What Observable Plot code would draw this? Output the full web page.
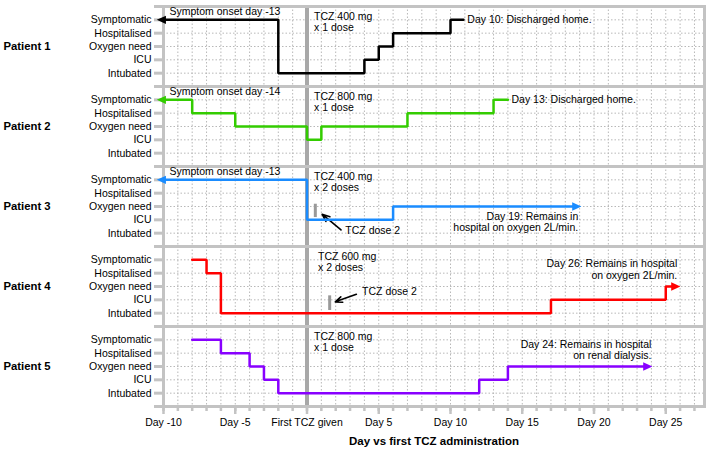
<!DOCTYPE html>
<html><head><meta charset="utf-8">
<script src="https://cdn.jsdelivr.net/npm/d3@7"></script>
<script src="https://cdn.jsdelivr.net/npm/@observablehq/plot@0.6"></script>
<style>
html,body{margin:0;padding:0;background:#fff;}
</style></head><body><div id="chart"></div>
<script>
// ---- data ----
const patients = ["Patient 1", "Patient 2", "Patient 3", "Patient 4", "Patient 5"];
const levelLabels = ["Intubated", "ICU", "Oxygen need", "Hospitalised", "Symptomatic"]; // level index 0..4
const colors = ["#000000", "#33cc00", "#1a8cff", "#ff0000", "#8800ff"];
const xTickDays = [-10, -5, 0, 5, 10, 15, 20, 25];

const p1Days = [-10, -2, 4, 5, 6, 10, 10.9];
const p1Levels = [4, 0, 1, 2, 3, 4, 4];
const p2Days = [-10, -8, -5, 0, 1, 7, 13, 14];
const p2Levels = [4, 3, 2, 1, 2, 3, 4, 4];
const p3Days = [-10, 0, 6, 18.8];
const p3Levels = [4, 1, 2, 2];
const p4Days = [-8, -7, -6, 17, 25, 25.7];
const p4Levels = [4, 3, 0, 1, 2, 2];
const p5Days = [-8, -6, -4, -3, -2, 12, 14, 23.75];
const p5Levels = [4, 3, 2, 1, 0, 1, 2, 2];

const onsetPatients = ["Patient 1", "Patient 2", "Patient 3"];
const onsetTexts = ["Symptom onset day -13", "Symptom onset day -14", "Symptom onset day -13"];

const doseTexts = ["TCZ 400 mg\nx 1 dose", "TCZ 800 mg\nx 1 dose", "TCZ 400 mg\nx 2 doses", "TCZ 600 mg\nx 2 doses", "TCZ 800 mg\nx 1 dose"];
const doseTextDays = [0.49, 0.49, 0.49, 0.77, 0.49];

// arrow heads (left = ongoing before window, right = ongoing after)
const leftArrowPatients = ["Patient 1", "Patient 2", "Patient 3"];
const leftArrowDays = [-10.15, -10.15, -10.15];
const leftArrowLevels = [4, 4, 4];
const rightArrowPatients = ["Patient 3", "Patient 4", "Patient 5"];
const rightArrowDays = [18.8, 25.7, 23.75];
const rightArrowLevels = [2, 2, 2];

// outcome notes: discharged (left-aligned after line end) and ongoing (right-aligned)
const dischargedPatients = ["Patient 1", "Patient 2"];
const dischargedTexts = ["Day 10: Discharged home.", "Day 13: Discharged home."];
const dischargedDays = [11.17, 14.25];
const dischargedLevels = [4, 4];
const ongoingPatients = ["Patient 3", "Patient 4", "Patient 5"];
const ongoingTexts = ["Day 19: Remains in\nhospital on oxygen 2L/min.", "Day 26: Remains in hospital\non oxygen 2L/min.", "Day 24: Remains in hospital\non renal dialysis."];
const ongoingDays = [18.9, 25.8, 24.0];
const ongoingLevels = [0.85, 3.27, 3.26];

// second dose markers
const dose2Patients = ["Patient 3", "Patient 4"];
const dose2Days = [0.58, 1.58];
const dose2Lo = [1.17, 0.2];
const dose2Hi = [2.17, 1.3];
const dose2TextDays = [2.67, 3.84];
const dose2TextLevels = [0.18, 1.62];
const dose2ArrowFromDays = [2.37, 3.44];
const dose2ArrowFromLevels = [0.24, 1.42];
const dose2ArrowToDays = [1.05, 1.97];
const dose2ArrowToLevels = [1.42, 0.85];

// ---- build tables ----
const series = [[p1Days, p1Levels], [p2Days, p2Levels], [p3Days, p3Levels], [p4Days, p4Levels], [p5Days, p5Levels]];
const rows = series.flatMap(([ds, ls], i) => ds.map((d, j) => ({patient: patients[i], day: d, level: ls[j]})));
const doses = patients.map((p, i) => ({patient: p, text: doseTexts[i], day: doseTextDays[i]}));
const leftArrows = leftArrowPatients.map((p, i) => ({patient: p, day: leftArrowDays[i], level: leftArrowLevels[i]}));
const rightArrows = rightArrowPatients.map((p, i) => ({patient: p, day: rightArrowDays[i], level: rightArrowLevels[i]}));
const discharged = dischargedPatients.map((p, i) => ({patient: p, text: dischargedTexts[i], day: dischargedDays[i], level: dischargedLevels[i]}));
const ongoing = ongoingPatients.map((p, i) => ({patient: p, text: ongoingTexts[i], day: ongoingDays[i], level: ongoingLevels[i]}));
const dose2 = dose2Patients.map((p, i) => ({patient: p, day: dose2Days[i], lo: dose2Lo[i], hi: dose2Hi[i], tday: dose2TextDays[i], tlevel: dose2TextLevels[i], fx: dose2ArrowFromDays[i], fyv: dose2ArrowFromLevels[i], tx: dose2ArrowToDays[i], ty: dose2ArrowToLevels[i]}));

const triRight = {draw(ctx, size) { const r = Math.sqrt(size / Math.PI); ctx.moveTo(r, 0); ctx.lineTo(-r, -r * 0.9); ctx.lineTo(-r, r * 0.9); ctx.closePath(); }};
const triLeft = {draw(ctx, size) { const r = Math.sqrt(size / Math.PI); ctx.moveTo(-r, 0); ctx.lineTo(r, -r * 0.9); ctx.lineTo(r, r * 0.9); ctx.closePath(); }};

const gray = "#c3c3c3";
const chart = Plot.plot({
  width: 709,
  height: 456,
  marginTop: 4,
  marginBottom: 48,
  marginLeft: 163,
  marginRight: 5,
  style: {fontFamily: "'Liberation Sans', Arial, sans-serif", fontSize: "10.5px", color: "#000", background: "#fff"},
  x: {domain: [-10, 27.7]},
  y: {domain: [-1, 5]},
  fy: {domain: patients, padding: 0, axis: null},
  color: {domain: patients, range: colors},
  marks: [
    Plot.ruleX(d3.range(-9, 28), {stroke: "#b8b8b8", strokeWidth: 1, strokeDasharray: "1.5,2"}),
    Plot.ruleY([0, 1, 2, 3, 4], {stroke: "#b8b8b8", strokeWidth: 1, strokeDasharray: "1.5,2"}),
    Plot.ruleX([0], {stroke: "#a8a8a8", strokeWidth: 4}),
    Plot.frame({stroke: gray, strokeWidth: 3}),
    Plot.axisY({ticks: [-1, 0, 1, 2, 3, 4, 5], tickFormat: d => levelLabels[d] ?? "", tickSize: 9, tickPadding: 3, stroke: gray, strokeWidth: 3, fill: "#000", label: null}),
    Plot.axisX({ticks: d3.range(-10, 28), tickSize: 5, tickFormat: () => "", stroke: gray, strokeWidth: 2.5, label: null}),
    Plot.axisX({ticks: xTickDays, tickSize: 8, tickPadding: 4, tickFormat: d => d === 0 ? "First TCZ given" : `Day ${d}`, stroke: gray, strokeWidth: 2.5, fill: "#000", label: null}),
    Plot.text(["Day vs first TCZ administration"], {fy: () => "Patient 5", frameAnchor: "bottom", dy: 38, fontWeight: "bold", fontSize: 11.5}),
    Plot.text(patients, {fy: d => d, text: d => d, frameAnchor: "left", dx: -160, textAnchor: "start", fontWeight: "bold", fontSize: 11.3}),
    Plot.text(onsetPatients, {fy: d => d, text: (d, i) => onsetTexts[i], frameAnchor: "top-left", dx: 6, dy: 1, lineAnchor: "top", textAnchor: "start"}),
    Plot.text(doses, {fy: "patient", x: "day", text: "text", frameAnchor: "top", dy: 5, lineAnchor: "top", textAnchor: "start", lineHeight: 1.11}),
    Plot.ruleX(dose2, {fy: "patient", x: "day", y1: "lo", y2: "hi", stroke: "#999", strokeWidth: 3}),
    Plot.arrow(dose2, {fy: "patient", x1: "fx", y1: "fyv", x2: "tx", y2: "ty", stroke: "#000", strokeWidth: 1.6, headLength: 8, headAngle: 45}),
    Plot.text(dose2, {fy: "patient", x: "tday", y: "tlevel", text: () => "TCZ dose 2", textAnchor: "start"}),
    Plot.line(rows, {fy: "patient", x: "day", y: "level", z: "patient", stroke: "patient", curve: "step-after", strokeWidth: 2.5, strokeLinejoin: "miter"}),
    Plot.dot(leftArrows, {fy: "patient", x: "day", y: "level", symbol: triLeft, r: 4.6, fill: "patient", stroke: "none"}),
    Plot.dot(rightArrows, {fy: "patient", x: "day", y: "level", symbol: triRight, r: 4.6, fill: "patient", stroke: "none"}),
    Plot.text(discharged, {fy: "patient", x: "day", y: "level", text: "text", textAnchor: "start"}),
    Plot.text(ongoing, {fy: "patient", x: "day", y: "level", text: "text", textAnchor: "end", lineHeight: 1.1})
  ]
});
document.getElementById("chart").append(chart);
</script>
</body></html>
